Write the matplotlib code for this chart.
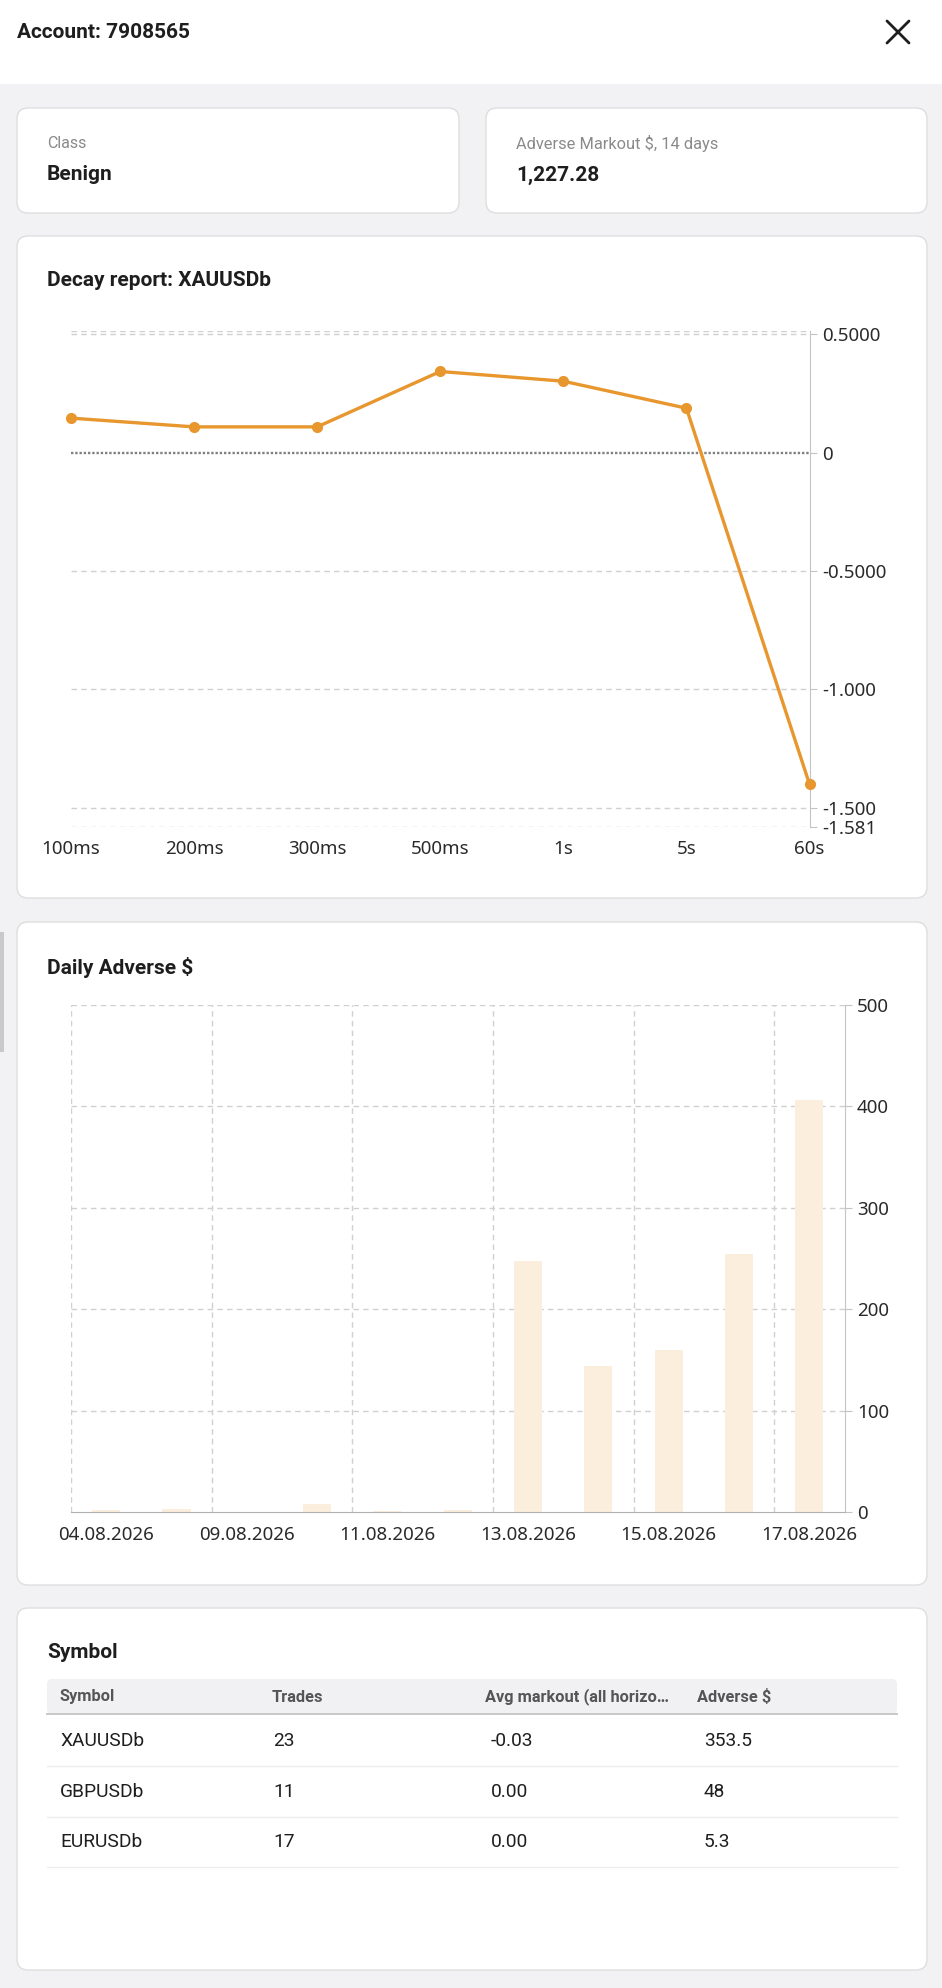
import matplotlib
matplotlib.use("Agg")
import matplotlib.pyplot as plt
from matplotlib.patches import FancyBboxPatch, Rectangle

plt.rcParams['font.family'] = ['Roboto', 'DejaVu Sans']

# --- data ---
account = "7908565"
account_class = "Benign"
adverse_total = "1,227.28"

horizons = ["100ms", "200ms", "300ms", "500ms", "1s", "5s", "60s"]
decay_vals = [0.146, 0.109, 0.109, 0.343, 0.302, 0.188, -1.400]
decay_ticks = [0.5, 0.0, -0.5, -1.0, -1.5, -1.581]
decay_tick_labels = ["0.5000", "0", "-0.5000", "-1.000", "-1.500", "-1.581"]

days = ["04.08.2026", "08.08.2026", "09.08.2026", "10.08.2026", "11.08.2026", "12.08.2026",
        "13.08.2026", "14.08.2026", "15.08.2026", "16.08.2026", "17.08.2026"]
daily_adverse = [1.5, 3.0, 0.0, 7.5, 0.5, 2.3, 247.5, 144.0, 160.0, 254.0, 406.0]

tbl_cols = ["Symbol", "Trades", "Avg markout (all horizo\u2026", "Adverse $"]
tbl_symbols = ["XAUUSDb", "GBPUSDb", "EURUSDb"]
tbl_trades = ["23", "11", "17"]
tbl_markout = ["-0.03", "0.00", "0.00"]
tbl_adverse = ["353.5", "48", "5.3"]

W, H = 942, 1988
ORANGE = "#E8962E"
BAR = "#FCEEDD"
GRID = "#d0d0d0"
AXC = "#c4c4c4"
TXT = "#1e1e1e"


def px_rect(left, top, width, height):
    return [left / W, 1 - (top + height) / H, width / W, height / H]


fig = plt.figure(figsize=(W / 100, H / 100), dpi=100)
fig.patch.set_facecolor("#f2f2f4")

bg = fig.add_axes([0, 0, 1, 1])
bg.set_xlim(0, W)
bg.set_ylim(H, 0)
bg.axis("off")

# header strip
bg.add_patch(Rectangle((0, 0), W, 84, color="white", lw=0))
bg.text(17, 32, "Account: " + account, fontsize=15, fontweight="bold", color=TXT, va="center")
bg.plot([887, 909], [21, 43], color=TXT, lw=2, solid_capstyle="round")
bg.plot([887, 909], [43, 21], color=TXT, lw=2, solid_capstyle="round")
# little scrollbar on the left
bg.add_patch(Rectangle((0, 932), 4, 120, color="#c9c9c9", lw=0))


def card(x, y, w, h):
    bg.add_patch(FancyBboxPatch((x, y), w, h, boxstyle="round,pad=0,rounding_size=11",
                                facecolor="white", edgecolor="#dedede", lw=1))


card(17, 108, 442, 105)
card(486, 108, 441, 105)
card(17, 236, 910, 662)
card(17, 922, 910, 663)
card(17, 1608, 910, 362)

bg.text(47, 143, "Class", fontsize=11.5, color="#8a8a8a", va="center")
bg.text(47, 175, account_class, fontsize=15, fontweight="bold", color=TXT, va="center")
bg.text(516, 143, "Adverse Markout $, 14 days", fontsize=11.8, color="#8a8a8a", va="center")
bg.text(516, 175, adverse_total, fontsize=15, fontweight="bold", color=TXT, va="center")

bg.text(47, 281, "Decay report: XAUUSDb", fontsize=15, fontweight="bold", color=TXT, va="center")
bg.text(47, 967, "Daily Adverse $", fontsize=15, fontweight="bold", color=TXT, va="center")
bg.text(47, 1653, "Symbol", fontsize=15, fontweight="bold", color=TXT, va="center")

# --- decay line chart ---
ax1 = fig.add_axes(px_rect(71, 331, 738.5, 496))
ax1.set_facecolor("none")
x1 = list(range(len(horizons)))
ax1.set_xlim(0, len(horizons) - 1)
ax1.set_ylim(-1.581, 0.514)
for v in decay_ticks + [0.514]:
    if v != 0:
        ax1.axhline(v, color=GRID, lw=1, ls=(0, (4, 3)), zorder=1)
ax1.axhline(0, color="#808080", lw=1.7, ls=(0, (1, 0.8)), zorder=1)
ax1.plot(x1, decay_vals, color=ORANGE, lw=2.4, marker="o", ms=7, zorder=3, clip_on=False)
ax1.set_xticks(x1)
ax1.set_xticklabels(horizons)
ax1.set_yticks(decay_ticks)
ax1.set_yticklabels(decay_tick_labels)
ax1.yaxis.tick_right()
for s in ["left", "top", "bottom"]:
    ax1.spines[s].set_visible(False)
ax1.spines["right"].set_color(AXC)
ax1.tick_params(axis="y", length=5, color=AXC, labelsize=13.5, labelcolor="#2a2a2a", pad=4)
ax1.tick_params(axis="x", length=0, labelsize=13.5, labelcolor="#2a2a2a", pad=9)
for lab in ax1.get_xticklabels() + ax1.get_yticklabels():
    lab.set_family(["Noto Sans", "DejaVu Sans"])

# --- daily adverse bar chart ---
ax2 = fig.add_axes(px_rect(71, 1005, 773.5, 507))
ax2.set_facecolor("none")
x2 = list(range(len(days)))
ax2.bar(x2, daily_adverse, width=0.4, color=BAR, zorder=2)
ax2.set_xlim(-0.5, len(days) - 0.5)
ax2.set_ylim(0, 500)
for v in [100, 200, 300, 400, 500]:
    ax2.axhline(v, color=GRID, lw=1, ls=(0, (4, 3)), zorder=1)
for b in range(0, len(days), 2):
    ax2.axvline(b - 0.5, color=GRID, lw=1, ls=(0, (4, 3)), zorder=1)
ax2.set_xticks(x2[::2])
ax2.set_xticklabels(days[::2])
ax2.set_yticks([0, 100, 200, 300, 400, 500])
ax2.yaxis.tick_right()
for s in ["left", "top"]:
    ax2.spines[s].set_visible(False)
ax2.spines["right"].set_color(AXC)
ax2.spines["bottom"].set_color("#b0b0b0")
ax2.tick_params(axis="y", length=5, color=AXC, labelsize=13.5, labelcolor="#2a2a2a", pad=4)
ax2.tick_params(axis="x", length=0, labelsize=13.5, labelcolor="#2a2a2a", pad=10)
for lab in ax2.get_xticklabels() + ax2.get_yticklabels():
    lab.set_family(["Noto Sans", "DejaVu Sans"])

# --- symbol table ---
bg.add_patch(FancyBboxPatch((47, 1679), 850, 35, boxstyle="round,pad=0,rounding_size=5",
                            facecolor="#f1f1f3", edgecolor="none"))
bg.plot([47, 897], [1714, 1714], color="#c8c8c8", lw=1.4)
col_x = [59, 272, 485, 697]
for cx, name in zip(col_x, tbl_cols):
    bg.text(cx, 1697, name, fontsize=11.8, fontweight="bold", color="#555555", va="center")
row_y = [1741, 1792, 1842]
val_x = [60, 273, 491, 704]
for i, ry in enumerate(row_y):
    cells = [tbl_symbols[i], tbl_trades[i], tbl_markout[i], tbl_adverse[i]]
    for cx, c in zip(val_x, cells):
        bg.text(cx, ry, c, fontsize=13.8, color=TXT, va="center")
    bg.plot([47, 897], [ry + 25, ry + 25], color="#ededed", lw=1)

fig.savefig("out.png", dpi=100, facecolor=fig.get_facecolor())
